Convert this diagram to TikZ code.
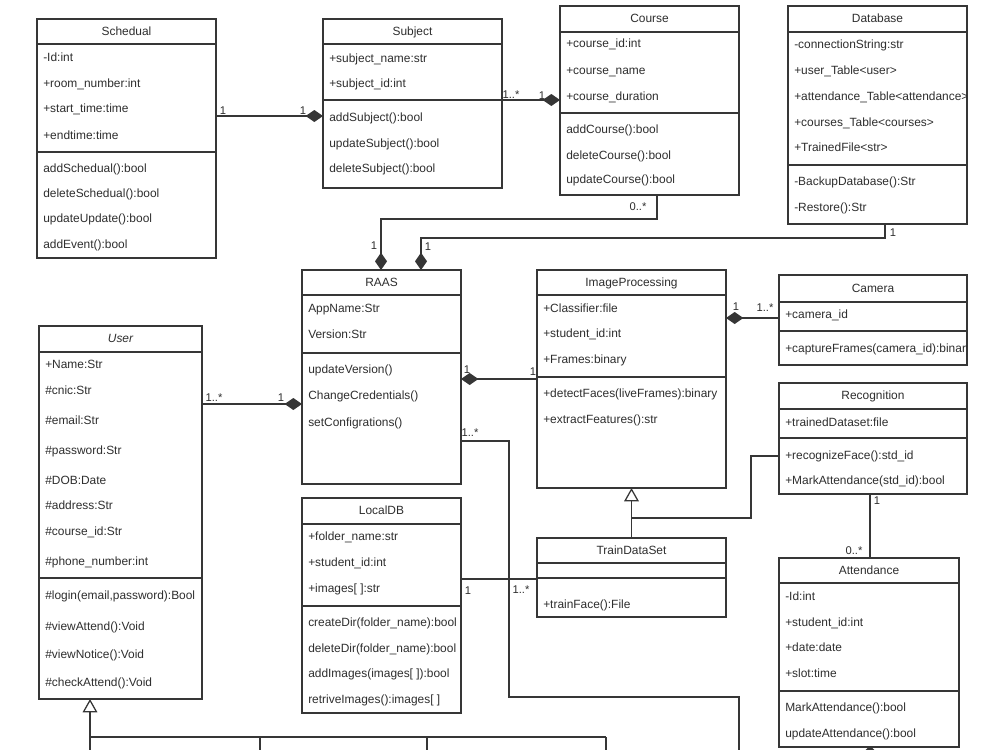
\documentclass[tikz,border=0pt]{standalone}
\usepackage{fontspec}
\setmainfont{Liberation Sans}
\usetikzlibrary{arrows.meta}
\definecolor{ln}{HTML}{363636}
\definecolor{tx}{HTML}{2E2E2E}
\newcommand\uclass[7]{%
  \node[box, anchor=north west, minimum width={(#4-#2)*0.75pt}, minimum height={(#5-#3)*0.75pt}] (#1) at (#2,#3) {};
  \draw[sepline] (#1.west |- 0,#6) -- (#1.east |- 0,#6);
  \node[ttl] (#1-t) at ({(#2+#4)/2},{(#3+#6)/2}) {#7};
}
\begin{document}
\begin{tikzpicture}[x=0.75pt,y=-0.75pt,
  box/.style={draw=ln, line width=0.8pt, fill=white, inner sep=0pt, outer sep=0pt},
  sepline/.style={draw=ln, line width=0.8pt},
  ttl/.style={inner sep=0pt, text=tx, font=\fontsize{8.95}{10}\selectfont, text height=6.5pt, text depth=1.8pt, yshift=-0.6pt},
  att/.style={anchor=west, inner sep=0pt, text=tx, font=\fontsize{8.95}{10}\selectfont, text height=6.5pt, text depth=1.8pt, yshift=-0.6pt},
  lbl/.style={inner sep=0pt, text=tx, font=\fontsize{8.4}{10}\selectfont, text height=6.3pt, text depth=0pt},
  conn/.style={draw=ln, line width=0.95pt},
  comp/.style={-{Diamond[length=13pt,width=9pt]}},
  gen/.style={-{Triangle[open,length=10pt,width=11pt,fill=white]}}
]
\fill[white] (0,0) rectangle (1000,750);
\useasboundingbox (0,0) rectangle (1000,750);

% ---------- Schedual
\uclass{sched}{37}{19}{216}{258}{44}{Schedual}
\draw[sepline] (sched.west |- 0,152) -- (sched.east |- 0,152);
\node[att] (sa1) at (43,58) {-Id:int};
\node[att] (sa2) at (43,84) {+room\_number:int};
\node[att] (sa3) at (43,109) {+start\_time:time};
\node[att] (sa4) at (43,136) {+endtime:time};
\node[att] (sm1) at (43,169) {addSchedual():bool};
\node[att] (sm2) at (43,194) {deleteSchedual():bool};
\node[att] (sm3) at (43,219) {updateUpdate():bool};
\node[att] (sm4) at (43,245) {addEvent():bool};

% ---------- Subject
\uclass{subj}{323}{19}{502}{188}{44}{Subject}
\draw[sepline] (subj.west |- 0,100) -- (subj.east |- 0,100);
\node[att] (ja1) at (329,59) {+subject\_name:str};
\node[att] (ja2) at (329,84) {+subject\_id:int};
\node[att] (jm1) at (329,118) {addSubject():bool};
\node[att] (jm2) at (329,144) {updateSubject():bool};
\node[att] (jm3) at (329,169) {deleteSubject():bool};

% ---------- Course
\uclass{course}{560}{6}{739}{195}{32}{Course}
\draw[sepline] (course.west |- 0,113) -- (course.east |- 0,113);
\node[att] (ca1) at (566,44) {+course\_id:int};
\node[att] (ca2) at (566,71) {+course\_name};
\node[att] (ca3) at (566,97) {+course\_duration};
\node[att] (cm1) at (566,130) {addCourse():bool};
\node[att] (cm2) at (566,156) {deleteCourse():bool};
\node[att] (cm3) at (566,180) {updateCourse():bool};

% ---------- Database
\uclass{db}{788}{6}{967}{224}{32}{Database}
\draw[sepline] (db.west |- 0,165) -- (db.east |- 0,165);
\begin{scope}
\clip (788,6) rectangle (966,224);
\node[att] (da1) at (794,45) {-connectionString:str};
\node[att] (da2) at (794,71) {+user\_Table<user>};
\node[att] (da3) at (794,97) {+attendance\_Table<attendance>};
\node[att] (da4) at (794,123) {+courses\_Table<courses>};
\node[att] (da5) at (794,148) {+TrainedFile<str>};
\node[att] (dm1) at (794,182) {-BackupDatabase():Str};
\node[att] (dm2) at (794,208) {-Restore():Str};
\end{scope}

% ---------- RAAS
\uclass{raas}{302}{270}{461}{484}{295}{RAAS}
\draw[sepline] (raas.west |- 0,353) -- (raas.east |- 0,353);
\node[att] (ra1) at (308,309) {AppName:Str};
\node[att] (ra2) at (308,335) {Version:Str};
\node[att] (rm1) at (308,370) {updateVersion()};
\node[att] (rm2) at (308,396) {ChangeCredentials()};
\node[att] (rm3) at (308,423) {setConfigrations()};

% ---------- ImageProcessing
\uclass{imgp}{537}{270}{726}{488}{295}{ImageProcessing}
\draw[sepline] (imgp.west |- 0,377) -- (imgp.east |- 0,377);
\node[att] (ia1) at (543,309) {+Classifier:file};
\node[att] (ia2) at (543,334) {+student\_id:int};
\node[att] (ia3) at (543,360) {+Frames:binary};
\node[att] (im1) at (543,394) {+detectFaces(liveFrames):binary};
\node[att] (im2) at (543,420) {+extractFeatures():str};

% ---------- Camera
\uclass{cam}{779}{275}{967}{365}{302}{Camera}
\draw[sepline] (cam.west |- 0,331) -- (cam.east |- 0,331);
\begin{scope}
\clip (779,275) rectangle (966,365);
\node[att] (ka1) at (785,315) {+camera\_id};
\node[att] (km1) at (785,349) {+captureFrames(camera\_id):binary};
\end{scope}

% ---------- Recognition
\uclass{rec}{779}{383}{967}{494}{409}{Recognition}
\draw[sepline] (rec.west |- 0,438) -- (rec.east |- 0,438);
\node[att] (ga1) at (785,423) {+trainedDataset:file};
\node[att] (gm1) at (785,456) {+recognizeFace():std\_id};
\node[att] (gm2) at (785,481) {+MarkAttendance(std\_id):bool};

% ---------- Attendance
\uclass{att}{779}{558}{959}{747}{583}{Attendance}
\draw[sepline] (att.west |- 0,691) -- (att.east |- 0,691);
\node[att] (aa1) at (785,597) {-Id:int};
\node[att] (aa2) at (785,623) {+student\_id:int};
\node[att] (aa3) at (785,648) {+date:date};
\node[att] (aa4) at (785,674) {+slot:time};
\node[att] (am1) at (785,708) {MarkAttendance():bool};
\node[att] (am2) at (785,734) {updateAttendance():bool};

% ---------- User
\uclass{user}{39}{326}{202}{699}{352}{\itshape User}
\draw[sepline] (user.west |- 0,578) -- (user.east |- 0,578);
\node[att] (ua1) at (45,365) {+Name:Str};
\node[att] (ua2) at (45,391) {\#cnic:Str};
\node[att] (ua3) at (45,421) {\#email:Str};
\node[att] (ua4) at (45,451) {\#password:Str};
\node[att] (ua5) at (45,481) {\#DOB:Date};
\node[att] (ua6) at (45,506) {\#address:Str};
\node[att] (ua7) at (45,532) {\#course\_id:Str};
\node[att] (ua8) at (45,562) {\#phone\_number:int};
\node[att] (um1) at (45,596) {\#login(email,password):Bool};
\node[att] (um2) at (45,627) {\#viewAttend():Void};
\node[att] (um3) at (45,655) {\#viewNotice():Void};
\node[att] (um4) at (45,683) {\#checkAttend():Void};

% ---------- LocalDB
\uclass{ldb}{302}{498}{461}{713}{524}{LocalDB}
\draw[sepline] (ldb.west |- 0,606) -- (ldb.east |- 0,606);
\node[att] (la1) at (308,537) {+folder\_name:str};
\node[att] (la2) at (308,563) {+student\_id:int};
\node[att] (la3) at (308,589) {+images[ ]:str};
\node[att] (lm1) at (308,623) {createDir(folder\_name):bool};
\node[att] (lm2) at (308,649) {deleteDir(folder\_name):bool};
\node[att] (lm3) at (308,674) {addImages(images[ ]):bool};
\node[att] (lm4) at (308,700) {retriveImages():images[ ]};

% ---------- TrainDataSet
\uclass{train}{537}{538}{726}{617}{563}{TrainDataSet}
\draw[sepline] (train.west |- 0,578) -- (train.east |- 0,578);
\node[att] (tm1) at (543,605) {+trainFace():File};

% ---------- free ends at the page bottom
\coordinate (ug) at (90,750);
\coordinate (ub1) at (260,750);
\coordinate (ub2) at (427,750);
\coordinate (ub3) at (606,750);
\coordinate (rb) at (739,750);

% ---------- connectors
\draw[conn,comp] (sched.east |- 0,116) -- (subj.west |- 0,116);
\draw[conn,comp] (subj.east |- 0,100) -- (course.west |- 0,100);
\draw[conn,comp] (course.south -| 657,0) -- (657,219) -- (381,219) -- (raas.north -| 381,0);
\draw[conn,comp] (db.south -| 885,0) -- (885,238) -- (421,238) -- (raas.north -| 421,0);
\draw[conn,comp] (user.east |- 0,404) -- (raas.west |- 0,404);
\draw[conn,comp] (imgp.west |- 0,379) -- (raas.east |- 0,379);
\draw[conn,comp] (cam.west |- 0,318) -- (imgp.east |- 0,318);
\draw[conn] (raas.east |- 0,441) -- (509,441) -- (509,697) -- (739,697) -- (rb);
\draw[conn] (ldb.east |- 0,579) -- (train.west |- 0,579);
\draw[conn,gen] (train.north) -- (imgp.south);
\draw[conn] (rec.west |- 0,456) -- (751,456) -- (751,518) -- (train.north |- 0,518);
\draw[conn] (rec.south -| 870,0) -- (att.north -| 870,0);
\draw[conn,gen] (ug) -- (user.south -| ug);
\draw[conn] (90,737) -- (606,737);
\draw[conn] (260,737) -- (ub1);
\draw[conn] (427,737) -- (ub2);
\draw[conn] (606,737) -- (ub3);
\fill[ln] (870,746) -- (874.5,750) -- (865.5,750) -- cycle;

% ---------- multiplicities
\node[lbl] at (223,110) {1};
\node[lbl] at (303,110) {1};
\node[lbl] at (511,94) {1..*};
\node[lbl] at (542,95) {1};
\node[lbl] at (638,206) {0..*};
\node[lbl] at (374,245) {1};
\node[lbl] at (428,246) {1};
\node[lbl] at (893,232) {1};
\node[lbl] at (214,397) {1..*};
\node[lbl] at (281,397) {1};
\node[lbl] at (467,369) {1};
\node[lbl] at (533,371) {1};
\node[lbl] at (470,432) {1..*};
\node[lbl] at (736,306) {1};
\node[lbl] at (765,307) {1..*};
\node[lbl] at (468,590) {1};
\node[lbl] at (521,589) {1..*};
\node[lbl] at (877,500) {1};
\node[lbl] at (854,550) {0..*};
\end{tikzpicture}
\end{document}
